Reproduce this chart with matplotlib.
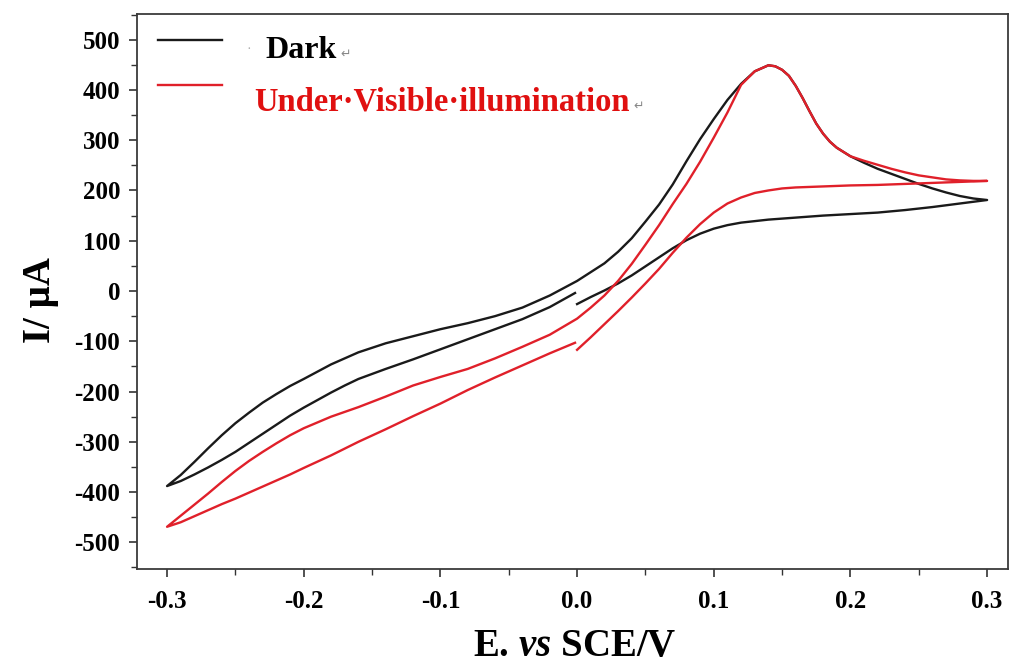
import matplotlib
matplotlib.use("Agg")
import matplotlib.pyplot as plt
from matplotlib.ticker import MultipleLocator

# ---- data (E in V vs SCE, I in microamps) ----
# Dark: anodic scan 0 -> 0.3 V
dark_fwd_E = [0.0, 0.01, 0.02, 0.03, 0.04, 0.05, 0.06, 0.07, 0.08, 0.09, 0.1, 0.11, 0.12, 0.13, 0.14, 0.16, 0.18, 0.2, 0.22, 0.24, 0.26, 0.28, 0.3]
dark_fwd_I = [-26, -12, 1, 15, 31, 49, 67, 85, 101, 114, 124, 131, 136, 139, 142, 146, 150, 153, 156, 161, 167, 174, 181]
# Dark: scan 0.3 -> -0.3 V (upper branch with the peak)
dark_rev_E = [0.3, 0.29, 0.28, 0.27, 0.26, 0.25, 0.24, 0.23, 0.22, 0.21, 0.2, 0.19, 0.185, 0.18, 0.175, 0.17, 0.165, 0.16, 0.155, 0.15, 0.145, 0.14,
              0.13, 0.12, 0.11, 0.1, 0.09, 0.08, 0.07, 0.06, 0.05, 0.04, 0.03, 0.02, 0.0, -0.02, -0.04, -0.06, -0.08, -0.1, -0.12, -0.14,
              -0.16, -0.18, -0.2, -0.21, -0.22, -0.23, -0.24, -0.25, -0.26, -0.27, -0.28, -0.29, -0.3]
dark_rev_I = [181, 184, 189, 196, 204, 213, 223, 233, 243, 255, 268, 285, 297, 313, 333, 358, 384, 408, 428, 440, 447, 449,
              437, 412, 380, 342, 302, 258, 212, 172, 138, 105, 78, 55, 20, -9, -33, -50, -64, -76, -90, -104,
              -122, -146, -175, -189, -205, -222, -242, -263, -287, -313, -340, -366, -388]
# Dark: scan -0.3 -> 0 V (lower branch)
dark_ret_E = [-0.3, -0.29, -0.28, -0.27, -0.26, -0.25, -0.24, -0.23, -0.22, -0.21, -0.2, -0.19, -0.18, -0.17, -0.16, -0.14, -0.12, -0.1,
              -0.08, -0.06, -0.04, -0.02, -0.0015]
dark_ret_I = [-388, -378, -365, -351, -336, -320, -302, -284, -266, -248, -232, -217, -202, -188, -175, -155, -136, -116,
              -96, -76, -56, -32, -4]

# Under visible illumination
light_fwd_E = [0.0, 0.01, 0.02, 0.03, 0.04, 0.05, 0.06, 0.07, 0.08, 0.09, 0.1, 0.11, 0.12, 0.13, 0.14, 0.15, 0.16, 0.18, 0.2, 0.22, 0.24, 0.26, 0.28, 0.3]
light_fwd_I = [-117, -92, -66, -40, -13, 15, 44, 76, 106, 133, 156, 174, 186, 195, 200, 204, 206, 208, 210, 211, 213, 215, 217, 219]
light_rev_E = [0.3, 0.29, 0.28, 0.27, 0.26, 0.25, 0.24, 0.23, 0.22, 0.21, 0.2, 0.19, 0.185, 0.18, 0.175, 0.17, 0.165, 0.16, 0.155, 0.15, 0.145, 0.14,
               0.13, 0.12, 0.11, 0.1, 0.09, 0.08, 0.07, 0.06, 0.05, 0.04, 0.03, 0.02, 0.01, 0.0, -0.02, -0.04, -0.06, -0.08, -0.1, -0.12,
               -0.14, -0.16, -0.18, -0.2, -0.21, -0.22, -0.23, -0.24, -0.25, -0.26, -0.27, -0.28, -0.29, -0.3]
light_rev_I = [219, 219, 220, 222, 226, 230, 236, 243, 251, 259, 268, 285, 297, 313, 333, 358, 384, 408, 428, 440, 447, 449,
               437, 410, 355, 305, 257, 213, 173, 131, 92, 54, 20, -9, -33, -55, -87, -111, -134, -155, -171, -188,
               -210, -231, -250, -273, -287, -303, -320, -338, -358, -380, -403, -425, -447, -469]
light_ret_E = [-0.3, -0.29, -0.28, -0.27, -0.26, -0.25, -0.24, -0.23, -0.22, -0.21, -0.2, -0.18, -0.16, -0.14, -0.12, -0.1,
               -0.08, -0.06, -0.04, -0.02, -0.0015]
light_ret_I = [-469, -460, -448, -436, -424, -413, -401, -389, -377, -365, -352, -327, -300, -275, -249, -224,
               -197, -172, -148, -124, -103]

x_ticks = [-0.3, -0.2, -0.1, 0.0, 0.1, 0.2, 0.3]
y_ticks = [-500, -400, -300, -200, -100, 0, 100, 200, 300, 400, 500]
legend_labels = ["Dark", "Under\u00b7Visible\u00b7illumination"]

serif = ['Liberation Serif', 'DejaVu Serif']
plt.rcParams['font.family'] = serif
plt.rcParams['mathtext.fontset'] = 'custom'
plt.rcParams['mathtext.rm'] = 'Liberation Serif:bold'
plt.rcParams['mathtext.it'] = 'Liberation Serif:italic:bold'
plt.rcParams['mathtext.bf'] = 'Liberation Serif:bold'

fig = plt.figure(figsize=(10.13, 6.68), dpi=100)
ax = fig.add_axes([137/1013, 1-569/668, (1008-137)/1013, (569-14)/668])

black = '#1a1a1a'
red = '#e0202a'
ax.plot(dark_fwd_E + dark_rev_E[1:] + dark_ret_E[1:], dark_fwd_I + dark_rev_I[1:] + dark_ret_I[1:],
        color=black, lw=1.7, solid_joinstyle='round')
ax.plot(light_fwd_E + light_rev_E[1:] + light_ret_E[1:], light_fwd_I + light_rev_I[1:] + light_ret_I[1:],
        color=red, lw=1.7, solid_joinstyle='round')

ax.set_xlim(-0.322, 0.3153)
ax.set_ylim(-553, 551)
ax.set_xticks(x_ticks)
ax.set_xticklabels([f"{v:.1f}" for v in x_ticks])
ax.set_yticks(y_ticks)
ax.set_yticklabels([str(v) for v in y_ticks])
ax.xaxis.set_minor_locator(MultipleLocator(0.05))
ax.yaxis.set_minor_locator(MultipleLocator(50))
ax.tick_params(which='major', direction='out', length=6, width=1.2, color='#333333', labelsize=18)
ax.tick_params(axis='y', which='major', pad=6)
ax.tick_params(axis='x', which='major', pad=9)
ax.tick_params(which='minor', direction='out', length=4, width=1.0, color='#333333')
for lab in ax.get_xticklabels() + ax.get_yticklabels():
    lab.set_fontweight('bold')
for s in ax.spines.values():
    s.set_color('#3a3a3a')
    s.set_linewidth(1.3)

ax.set_xlabel(r"E. $\it{vs}$ SCE/V", fontsize=28, fontweight='bold')
ax.xaxis.set_label_coords(0.503, -0.106)
ax.set_ylabel("I/ µA", fontsize=28, fontweight='bold')
ax.yaxis.set_label_coords(-0.090, 0.485)

# legend (drawn by hand, as in the reference)
ax.plot([0.024, 0.098], [0.953, 0.953], transform=ax.transAxes, color=black, lw=1.7)
ax.plot([0.024, 0.098], [0.872, 0.872], transform=ax.transAxes, color=red, lw=1.7)
ax.text(0.126, 0.930, "\u00b7", transform=ax.transAxes, fontsize=10, color='#aaaaaa', va='baseline', ha='left')
ax.text(0.147, 0.921, legend_labels[0], transform=ax.transAxes, fontsize=23, fontweight='bold',
        color='black', va='baseline', ha='left')
ax.text(0.234, 0.922, "\u21b5", transform=ax.transAxes, fontsize=9, color='#888888',
        va='baseline', ha='left', family='DejaVu Sans')
ax.text(0.135, 0.827, legend_labels[1], transform=ax.transAxes, fontsize=23.5, fontweight='bold',
        color='#e01010', va='baseline', ha='left')
ax.text(0.570, 0.828, "\u21b5", transform=ax.transAxes, fontsize=9, color='#888888',
        va='baseline', ha='left', family='DejaVu Sans')

fig.savefig("out.png", dpi=100)
